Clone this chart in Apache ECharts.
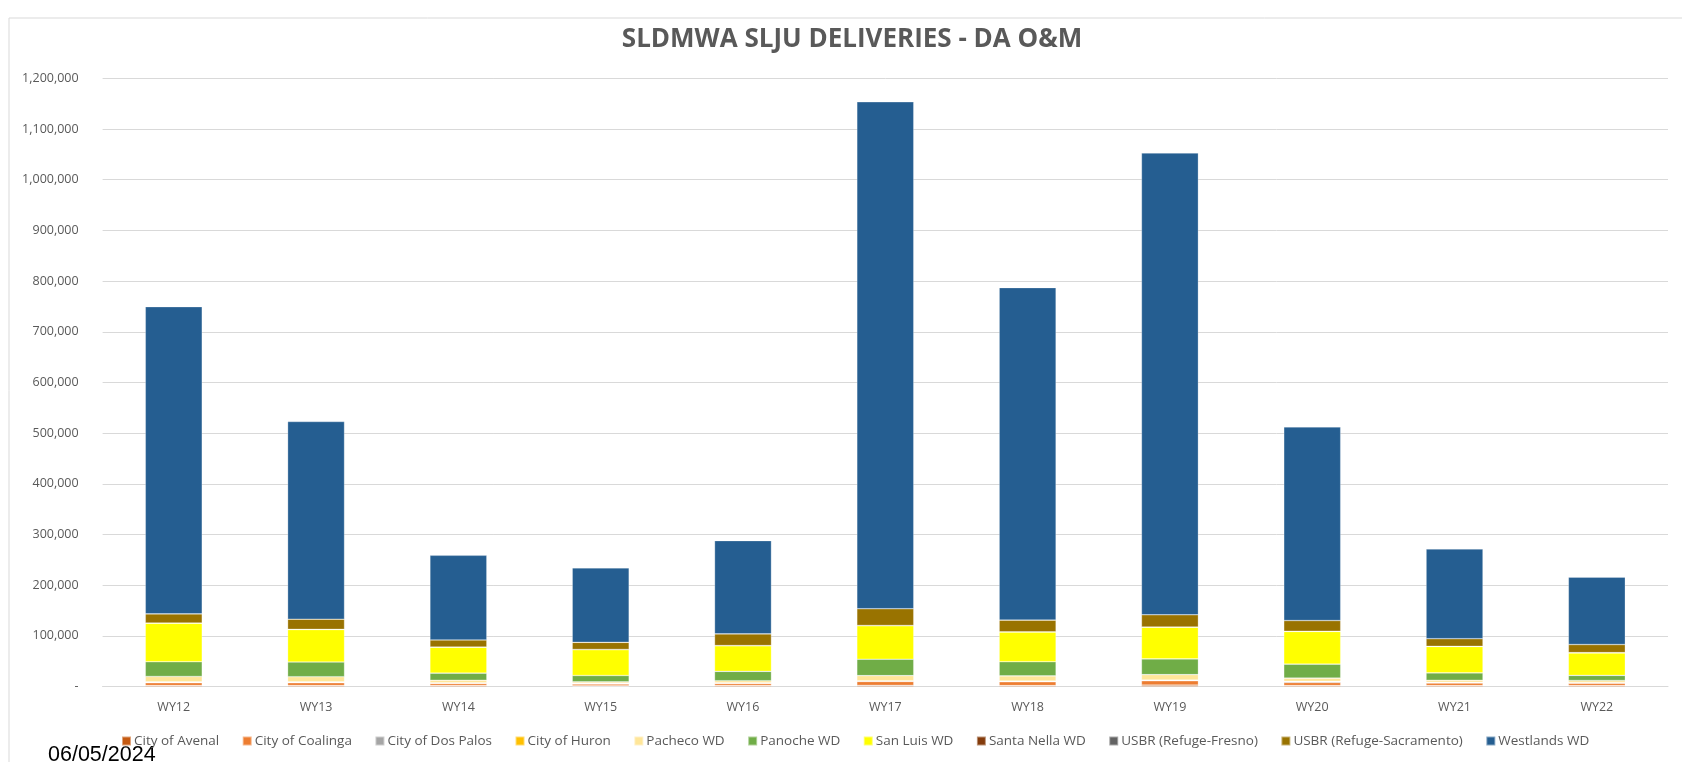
<!DOCTYPE html>
<html>
<head>
<meta charset="utf-8">
<script src="https://cdn.jsdelivr.net/npm/echarts@6/dist/echarts.min.js"></script>
<style>
html,body{margin:0;padding:0;background:#fff;}
#chart{width:1682px;height:762px;}
</style>
</head>
<body>
<div id="chart"></div>
<script>
const categories = ['WY12','WY13','WY14','WY15','WY16','WY17','WY18','WY19','WY20','WY21','WY22'];
const seriesNames = ['City of Avenal','City of Coalinga','City of Dos Palos','City of Huron','Pacheco WD','Panoche WD','San Luis WD','Santa Nella WD','USBR (Refuge-Fresno)','USBR (Refuge-Sacramento)','Westlands WD'];
const seriesColors = ['#C55A11','#ED7D31','#A5A5A5','#FFC000','#FFE699','#70AD47','#FFFF00','#843C0C','#636363','#997300','#255E91'];

const cityAvenal    = [2000, 2000, 2000, 1500, 2000, 2500, 2000, 3000, 2000, 2000, 2000];
const cityCoalinga  = [5500, 5500, 4000, 3500, 4000, 7500, 7500, 8500, 6000, 5000, 4500];
const cityDosPalos  = [1000, 1000, 800, 700, 800, 800, 800, 800, 1500, 800, 800];
const cityHuron     = [1000, 1000, 800, 700, 800, 800, 800, 800, 800, 800, 800];
const pachecoWD     = [10500, 10000, 5000, 3000, 4000, 10000, 10000, 10500, 6500, 4000, 4000];
const panocheWD     = [29000, 29000, 14000, 12500, 18500, 32500, 28000, 31000, 27500, 14500, 10000];
const sanLuisWD     = [76000, 64000, 51000, 51000, 50500, 66000, 58500, 62500, 64500, 52000, 44500];
const santaNellaWD  = [300, 300, 200, 200, 200, 300, 300, 300, 300, 200, 200];
const usbrFresno    = [200, 200, 200, 200, 200, 200, 200, 200, 200, 200, 200];
const usbrSac       = [18000, 20000, 14000, 14000, 23000, 33000, 23000, 24000, 21000, 15000, 16000];
const westlandsWD   = [606000, 390000, 167000, 147000, 184000, 1000000, 656000, 911000, 382000, 177000, 133000];

const yTickMax = 1200000;
const yTickInterval = 100000;

const seriesData = [cityAvenal, cityCoalinga, cityDosPalos, cityHuron, pachecoWD, panocheWD, sanLuisWD, santaNellaWD, usbrFresno, usbrSac, westlandsWD];

const FONT = "'Open Sans', 'Liberation Sans', sans-serif";
const chart = echarts.init(document.getElementById('chart'), null, {renderer:'canvas'});

const fmt = v => v === 0 ? '-' : v.toLocaleString('en-US');

chart.setOption({
  animation: false,
  backgroundColor: '#ffffff',
  title: {
    text: 'SLDMWA SLJU DELIVERIES - DA O&M',
    left: 847, top: 22, textAlign: 'center',
    textStyle: {fontFamily: FONT, fontSize: 26, fontWeight: 'bold', color: '#595959'}
  },
  graphic: [
    {type:'rect', shape:{x:9, y:18, width:1700, height:800}, style:{fill:'none', stroke:'#d9d9d9', lineWidth:1}, silent:true, z:-10},
    {type:'text', left:48, top:744, style:{text:'06/05/2024', fontFamily:"'Liberation Sans', sans-serif", fontSize:21.5, fill:'#000'}}
  ],
  legend: {
    data: seriesNames,
    left: 116, top: 729,
    itemWidth: 9, itemHeight: 9, itemGap: 22.5,
    icon: 'rect',
    textStyle: {fontFamily: FONT, fontSize: 13.5, color: '#595959', padding:[0,0,0,-2]}
  },
  grid: {left: 102.6, right: 14, top: 78.3, bottom: 75.4, containLabel: false},
  xAxis: {
    type: 'category', data: categories,
    axisLine: {lineStyle: {color: '#d9d9d9', width: 1}},
    axisTick: {show: false},
    axisLabel: {fontFamily: FONT, fontSize: 12.5, color: '#595959', margin: 14}
  },
  yAxis: {
    type: 'value', min: 0, max: yTickMax, interval: yTickInterval,
    axisLine: {show: false}, axisTick: {show: false},
    splitLine: {lineStyle: {color: '#d9d9d9', width: 1}},
    axisLabel: {fontFamily: FONT, fontSize: 12.5, color: '#595959', margin: 24, formatter: fmt}
  },
  series: seriesNames.map((name, i) => ({
    name: name, type: 'bar', stack: 'total', barWidth: '40%',
    data: seriesData[i],
    itemStyle: {color: seriesColors[i], borderColor: 'rgba(255,255,255,0.45)', borderWidth: 0.6}
  }))
});
</script>
</body>
</html>
